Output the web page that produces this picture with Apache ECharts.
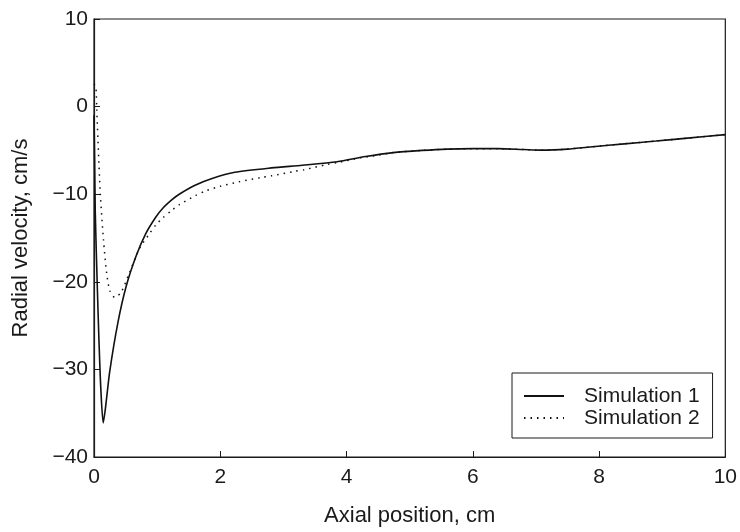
<!DOCTYPE html>
<html>
<head>
<meta charset="utf-8">
<script src="https://cdn.jsdelivr.net/npm/echarts@6/dist/echarts.min.js"></script>
<style>
html,body{margin:0;padding:0;background:#fff;}
#chart{width:740px;height:532px;}
</style>
</head>
<body>
<div id="chart"></div>
<script>
var xTicks = [0, 2, 4, 6, 8, 10];
var yTicks = [-40, -30, -20, -10, 0, 10];
var seriesNames = ['Simulation 1', 'Simulation 2'];

var sim1X = [0, 0.01, 0.02, 0.05, 0.08, 0.11, 0.146, 0.18, 0.25, 0.38, 0.51, 0.67, 0.82, 0.98, 1.09, 1.24, 1.35, 1.61, 1.87, 2.23, 2.81, 3.3, 3.85, 4.3, 4.74, 5.2, 5.6, 6.0, 6.4, 6.8, 7.1, 7.5, 7.9, 8.4, 8.9, 9.4, 10];
var sim1Y = [-1, -6, -12, -20, -27, -32.5, -36.1, -34.5, -30.2, -24.6, -20.5, -17.0, -14.5, -12.6, -11.6, -10.6, -10.0, -8.95, -8.2, -7.5, -7.0, -6.7, -6.3, -5.7, -5.25, -5.0, -4.85, -4.8, -4.8, -4.9, -4.97, -4.85, -4.58, -4.25, -3.93, -3.6, -3.2];

var sim2X = [0, 0.03, 0.045, 0.07, 0.1, 0.15, 0.2, 0.25, 0.33, 0.43, 0.56, 0.72, 0.88, 0.98, 1.09, 1.24, 1.35, 1.61, 1.76, 2.0, 2.29, 2.65, 2.81, 3.17, 3.33, 3.7, 3.85, 4.22, 4.5, 4.74, 5.2, 5.6, 6.0, 6.4, 6.8, 7.1, 7.5, 7.9, 8.4, 8.9, 9.4, 10];
var sim2Y = [2.6, 2.2, -0.5, -5.1, -10, -15.2, -19, -21, -21.8, -21.2, -19, -16.2, -14.5, -13.5, -12.7, -11.8, -11.2, -10.15, -9.65, -9.1, -8.6, -8.1, -7.9, -7.4, -7.2, -6.6, -6.4, -5.85, -5.55, -5.25, -5.0, -4.85, -4.8, -4.8, -4.9, -4.97, -4.85, -4.58, -4.25, -3.93, -3.6, -3.2];

function pairs(xs, ys) {
  return xs.map(function (x, i) { return [x, ys[i]]; });
}

var FONT = '"Liberation Sans", Arial, Helvetica, sans-serif';
var INK = '#1a1a1a';
var chart = echarts.init(document.getElementById('chart'), null, {renderer: 'canvas'});
chart.setOption({
  animation: false,
  backgroundColor: '#fff',
  textStyle: {fontFamily: FONT},
  grid: {left: 94, right: 8, top: 19, bottom: 68, show: true, borderColor: INK, borderWidth: 1.2, containLabel: false},
  legend: {
    orient: 'vertical',
    left: 512, top: 373,
    padding: [12, 13, 9, 11],
    itemGap: 0,
    itemWidth: 40, itemHeight: 14,
    borderColor: INK, borderWidth: 1,
    backgroundColor: '#fff',
    itemStyle: {opacity: 0},
    textStyle: {fontSize: 21, color: INK, fontFamily: FONT, padding: [0, 0, 0, 15], lineHeight: 22},
    data: seriesNames
  },
  xAxis: {
    type: 'value', min: xTicks[0], max: xTicks[xTicks.length - 1], interval: 2,
    name: 'Axial position, cm', nameLocation: 'middle', nameGap: 48,
    nameTextStyle: {fontSize: 22, color: INK, fontFamily: FONT},
    axisLine: {show: true, onZero: false, lineStyle: {color: INK, width: 1.2}},
    axisTick: {show: true, inside: true, length: 6, lineStyle: {color: INK, width: 1}},
    axisLabel: {fontSize: 21, color: INK, margin: 10, fontFamily: FONT},
    splitLine: {show: false}
  },
  yAxis: {
    type: 'value', min: yTicks[0], max: yTicks[yTicks.length - 1], interval: 10,
    name: 'Radial velocity, cm/s', nameLocation: 'middle', nameGap: 62, nameRotate: 90,
    nameTextStyle: {fontSize: 22, color: INK, fontFamily: FONT},
    axisLine: {show: true, onZero: false, lineStyle: {color: INK, width: 1.2}},
    axisTick: {show: true, inside: true, length: 6, lineStyle: {color: INK, width: 1}},
    axisLabel: {fontSize: 21, color: INK, margin: 6, fontFamily: FONT,
      formatter: function (v) { return v < 0 ? '\u2212' + Math.abs(v) : String(v); }},
    splitLine: {show: false}
  },
  series: [
    {
      name: seriesNames[0], type: 'line', data: pairs(sim1X, sim1Y),
      symbol: 'none', smooth: 0.25,
      lineStyle: {color: '#111', width: 1.6, type: 'solid'},
      itemStyle: {color: '#111'}
    },
    {
      name: seriesNames[1], type: 'line', data: pairs(sim2X, sim2Y),
      symbol: 'none', smooth: 0.25,
      lineStyle: {color: '#111', width: 1.5, type: [1.5, 5]},
      itemStyle: {color: '#111'}
    }
  ]
});
</script>
</body>
</html>
